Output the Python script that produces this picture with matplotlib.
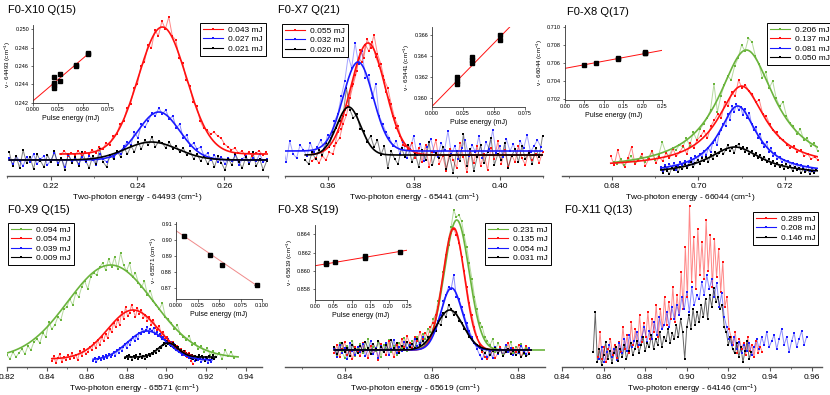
import numpy as np
import matplotlib
matplotlib.use('Agg')
import matplotlib.pyplot as plt
from matplotlib.lines import Line2D
from matplotlib.ticker import MultipleLocator, FormatStrFormatter

plt.rcParams['font.family'] = ['Liberation Sans', 'DejaVu Sans']
plt.rcParams['mathtext.fontset'] = 'custom'
plt.rcParams['mathtext.rm'] = 'Liberation Sans'
plt.rcParams['mathtext.default'] = 'regular'

RED = '#ff1010'
BLUE = '#1a1aff'
BLACK = '#000000'
GREEN = '#6ab43c'

# ---------------- data (signal in arbitrary units) ----------------
# Panel 1: F0-X10 Q(15)
p1_red_x0, p1_red_step = 0.2224, 0.0008
p1_red = [22, 25, 20, 23, 21, 25, 20, 24, 22, 26, 23, 29, 27, 33, 31, 40, 42, 52, 55, 68,
          72, 88, 92, 110, 114, 131, 128, 146, 140, 155, 147, 159, 140, 136, 118, 113, 96, 90, 74, 70,
          55, 48, 46, 42, 44, 40, 38, 32, 29, 26, 28, 23, 25, 21, 24, 20, 23, 25, 21, 24]
p1_blue_x0, p1_blue_step = 0.2105, 0.0008
p1_blue = [18, 12, 20, 15, 10, 19, 14, 22, 12, 17, 20, 11, 16, 23, 13, 18, 9, 21, 15, 17,
           12, 19, 14, 20, 16, 11, 22, 17, 14, 19, 19, 24, 22, 30, 34, 31, 44, 38, 52, 49,
           55, 63, 60, 68, 62, 66, 57, 60, 48, 52, 38, 41, 30, 33, 27, 29, 20, 23, 16, 21,
           14, 19, 12, 18, 15, 21, 11, 17, 20, 13, 18, 15, 22, 14, 17]
p1_black_x0, p1_black_step = 0.2105, 0.0008
p1_black = [24, 10, 20, 8, 26, 13, 19, 7, 22, 15, 9, 21, 14, 25, 11, 18, 6, 22, 13, 19,
            10, 24, 15, 8, 20, 12, 27, 14, 9, 21, 17, 25, 19, 28, 22, 30, 24, 34, 27, 36,
            31, 39, 29, 35, 33, 28, 34, 27, 30, 24, 28, 21, 25, 17, 22, 15, 20, 12, 18, 9,
            20, 13, 6, 17, 11, 22, 14, 8, 19, 12, 24, 10, 17, 6, 15]
p1_red_fit = (22, 127, 0.2457, 0.0055)
p1_blue_fit = (16, 48, 0.2449, 0.0048)
p1_black_fit = (16, 18, 0.2432, 0.0060)
p1_labels = ['0.043 mJ', '0.027 mJ', '0.021 mJ']

# Panel 2: F0-X7 Q(21)
p2_red_x0, p2_red_step = 0.3563, 0.0008
p2_red = [15, 18, 13, 20, 16, 24, 22, 33, 38, 52, 61, 78, 92, 105, 126, 118, 137, 128, 141, 122,
          112, 96, 88, 72, 58, 50, 36, 30, 27, 33, 18, 28, 14, 31, 9, 24, 36, 12, 20, 5,
          27, 16, 8, 33, 19, 4, 25, 13, 30, 10, 22, 6, 28, 17, 35, 12, 26, 9, 21, 14,
          30, 18, 11, 25, 16, 22, 13, 24]
p2_red2_x0, p2_red2_step = 0.3615, 0.0008
p2_red2 = [30, 44, 47, 66, 70, 90, 101, 118, 114, 131, 125, 134, 119, 110, 100, 84, 76, 60, 48, 40, 31]
p2_blue_x0, p2_blue_step = 0.3495, 0.0008
p2_blue = [30, 14, 35, 22, 18, 31, 26, 20, 33, 24, 29, 36, 27, 41, 38, 55, 62, 80, 95, 120,
           108, 133, 112, 125, 98, 101, 78, 92, 60, 52, 44, 38, 30, 35, 22, 34, 18, 27, 40, 21,
           32, 15, 29, 37, 24, 19, 33, 26, 45, 22, 30, 17, 28, 36, 20, 31, 24, 40, 18, 34,
           27, 46, 23, 30, 19, 37, 25, 32, 21, 35, 28, 41, 24, 30, 36, 29]
p2_black_x0, p2_black_step = 0.3547, 0.0008
p2_black = [16, 12, 24, 17, 26, 21, 33, 29, 44, 48, 55, 60, 88, 66, 58, 62, 47, 45, 34, 40,
            29, 36, 21, 30, 8, 25, 17, 12, 28, 19, 31, 14, 22, 9, 26, 16, 34, 11, 23, 18,
            29, 7, 20, 3, 25, 15, 42, 10, 27, 5, 19, 31, 13, 24, 38, 11, 22, 16, 33, 8,
            20, 27, 14, 30, 17, 23, 12, 28, 19, 40]
p2_red_fit = (21, 112, 0.3693, 0.0040)
p2_blue_fit = (25, 89, 0.3670, 0.0035)
p2_black_fit = (21, 48, 0.3648, 0.0028)
p2_labels = ['0.055 mJ', '0.032 mJ', '0.020 mJ']

# Panel 3: F0-X8 Q(17)
p3_green_x0, p3_green_step = 0.6804, 0.0008
p3_green = [14, 12, 17, 11, 15, 20, 13, 16, 19, 14, 18, 25, 16, 21, 34, 24, 20, 28, 26, 31,
            29, 38, 30, 44, 36, 47, 52, 58, 66, 92, 64, 80, 91, 100, 96, 110, 118, 131, 125, 138,
            134, 120, 112, 98, 104, 88, 95, 78, 70, 74, 60, 53, 50, 42, 47, 36, 38, 30, 33, 25]
p3_red_x0, p3_red_step = 0.6797, 0.0008
p3_red = [20, 11, 26, 14, 9, 18, 29, 12, 16, 22, 10, 17, 25, 13, 19, 15, 23, 18, 27, 20,
          24, 30, 22, 33, 28, 36, 40, 45, 38, 50, 56, 62, 58, 74, 70, 84, 80, 96, 88, 91,
          85, 82, 74, 76, 62, 60, 52, 46, 44, 38, 36, 31, 28, 30, 24, 26, 20, 22, 17, 19, 16]
p3_blue_x0, p3_blue_step = 0.6913, 0.0005
p3_blue = [9, 5, 11, 7, 12, 8, 13, 6, 10, 14, 11, 15, 9, 14, 18, 12, 20, 16, 22, 19,
           25, 21, 28, 24, 33, 36, 31, 42, 46, 52, 50, 62, 56, 70, 64, 72, 66, 69, 61, 67,
           58, 63, 52, 46, 49, 38, 42, 33, 29, 34, 24, 28, 20, 23, 17, 19, 14, 16, 12, 15,
           10, 13, 8, 12, 7, 11, 9, 6, 10, 5, 8, 4, 7]
p3_black_x0, p3_black_step = 0.6913, 0.0005
p3_black = [7, 3, 9, 5, 2, 8, 6, 10, 4, 9, 7, 12, 8, 11, 14, 9, 13, 16, 12, 18,
            15, 19, 14, 21, 17, 24, 20, 23, 27, 22, 26, 31, 25, 28, 23, 30, 32, 27, 29, 24,
            28, 22, 25, 20, 23, 18, 21, 16, 19, 14, 17, 12, 15, 10, 13, 9, 11, 7, 12, 8,
            10, 5, 9, 6, 8, 3, 7, 4, 6, 2, 5, 3, 6]
p3_green_fit = (6, 120, 0.7111, 0.0080)
p3_red_fit = (9, 80.9, 0.7100, 0.0067)
p3_blue_fit = (2.3, 67.7, 0.7091, 0.0054)
p3_black_fit = (1.6, 27.4, 0.7084, 0.0075)
p3_labels = ['0.206 mJ', '0.137 mJ', '0.081 mJ', '0.050 mJ']

# Panel 4: F0-X9 Q(15)
p4_green_x0, p4_green_step = 0.8200, 0.0015
p4_green = [12, 8, 15, 10, 14, 18, 13, 21, 17, 25, 28, 24, 34, 30, 45, 38, 42, 50, 47, 58,
            60, 68, 62, 74, 70, 80, 86, 78, 90, 94, 92, 100, 104, 97, 108, 100, 110, 98, 114, 102,
            96, 104, 90, 94, 84, 80, 86, 72, 76, 66, 62, 58, 64, 50, 48, 44, 38, 42, 33, 30,
            27, 31, 22, 24, 18, 21, 15, 19, 12, 16, 10, 14, 8, 17, 11, 15, 9]
p4_red_x0, p4_red_step = 0.8425, 0.0010
p4_red = [6, 11, 4, 9, 13, 5, 10, 7, 12, 8, 14, 9, 12, 7, 16, 11, 18, 13, 15, 20,
          17, 24, 19, 27, 22, 30, 26, 33, 29, 38, 35, 44, 40, 47, 42, 55, 48, 60, 51, 54,
          62, 56, 50, 59, 53, 57, 49, 52, 46, 50, 42, 47, 39, 37, 41, 31, 35, 28, 30, 26,
          22, 25, 19, 21, 15, 18, 12, 16, 10, 14, 6, 3]
p4_blue_x0, p4_blue_step = 0.8632, 0.0008
p4_blue = [6, 9, 5, 8, 10, 7, 11, 8, 12, 9, 13, 10, 12, 15, 11, 17, 14, 19, 16, 20,
           23, 19, 25, 22, 27, 30, 26, 31, 28, 34, 33, 38, 35, 37, 40, 34, 38, 36, 39, 33,
           35, 31, 33, 28, 30, 27, 24, 28, 22, 25, 20, 23, 17, 19, 15, 16, 12, 14, 11, 13,
           9, 12, 8, 10, 6, 9, 7, 10, 5, 8, 6, 9, 4, 7, 5]
p4_black_x0, p4_black_step = 0.8793, 0.0007
p4_black = [9, 11, 8, 12, 10, 7, 11, 9, 12, 8, 10, 13, 9, 11, 8, 12, 10, 13, 11, 14,
            13, 16, 14, 18, 16, 20, 19, 22, 24, 21, 26, 23, 25, 21, 24, 19, 22, 18, 20, 16,
            17, 14, 16, 12, 14, 11, 13, 9, 12, 8, 11, 7, 10, 12, 8, 11, 9, 6, 10, 8,
            11, 7, 9, 12, 8, 10]
p4_green_fit = (9, 93, 0.8720, 0.0215)
p4_red_fit = (8, 49, 0.8833, 0.0128)
p4_blue_fit = (7, 29, 0.8904, 0.0100)
p4_black_fit = (10, 14, 0.9009, 0.0050)
p4_labels = ['0.094 mJ', '0.054 mJ', '0.039 mJ', '0.009 mJ']

# Panel 5: F0-X8 S(19)
p5_x0, p5_step = 0.8375, 0.0006
p5_green = [20, 12, 24, 15, 9, 21, 17, 26, 11, 19, 23, 14, 18, 28, 13, 20, 16, 25, 10, 22,
            18, 27, 15, 21, 12, 24, 19, 29, 16, 22, 26, 18, 30, 24, 33, 28, 38, 35, 48, 52,
            66, 78, 95, 112, 128, 140, 157, 150, 152, 146, 132, 120, 104, 88, 70, 58, 44, 40, 30, 26,
            22, 28, 15, 24, 19, 12, 21, 17, 25, 14, 20, 16, 23, 13, 19, 18]
p5_red = [14, 22, 10, 18, 25, 12, 16, 8, 20, 15, 11, 24, 17, 9, 21, 13, 19, 7, 23, 16,
          12, 26, 18, 10, 22, 15, 28, 20, 31, 24, 19, 30, 26, 35, 28, 34, 30, 40, 44, 52,
          60, 76, 90, 108, 122, 134, 138, 132, 124, 110, 96, 80, 64, 52, 40, 30, 22, 15, 10, 8,
          12, 18, 9, 14, 20, 11, 16, 24, 13, 19, 15, 22, 10, 17, 21, 14]
p5_blue = [18, 10, 22, 14, 19, 8, 24, 16, 12, 20, 15, 23, 11, 17, 26, 13, 19, 9, 21, 16,
           24, 12, 18, 27, 14, 20, 16, 25, 19, 22, 17, 28, 21, 24, 30, 22, 27, 29, 34, 38,
           46, 52, 66, 72, 80, 78, 92, 70, 68, 60, 52, 44, 36, 30, 24, 18, 12, 8, 14, 10,
           16, 9, 20, 13, 18, 11, 22, 15, 19, 12, 17, 14, 21, 16, 13, 19]
p5_black = [20, 13, 17, 24, 15, 19, 11, 22, 18, 14, 21, 16, 25, 19, 13, 23, 18, 26, 20, 15,
            22, 17, 27, 19, 24, 14, 21, 18, 25, 20, 23, 19, 28, 22, 26, 21, 30, 28, 34, 36,
            44, 42, 54, 50, 62, 58, 52, 55, 46, 44, 38, 36, 30, 28, 24, 22, 19, 17, 14, 18,
            12, 16, 19, 14, 17, 11, 15, 18, 13, 16, 12, 15, 10, 14, 11, 13]
p5_green_fit = (17, 130, 0.8658, 0.00285)
p5_red_fit = (17, 122, 0.8651, 0.0025)
p5_blue_fit = (17, 62, 0.8646, 0.0025)
p5_black_fit = (17, 40, 0.8642, 0.0031)
p5_labels = ['0.231 mJ', '0.135 mJ', '0.054 mJ', '0.031 mJ']

# Panel 6: F0-X11 Q(13)
p6_red_x0, p6_red_step = 0.8573, 0.0010
p6_red = [10, 35, 8, 20, 5, 18, 28, 12, 22, 9, 25, 15, 40, 18, 32, 14, 45, 22, 38, 20,
          52, 25, 44, 30, 55, 28, 48, 35, 62, 30, 58, 38, 70, 42, 65, 48, 80, 45, 72, 52,
          95, 58, 120, 70, 161, 85, 130, 78, 138, 92, 125, 88, 147, 96, 132, 80, 128, 90, 118, 75,
          105, 60, 70, 38, 30, 22, 35, 14, 28, 18, 24, 12, 30, 16, 22, 10, 26, 14, 20, 15]
p6_blue_x0, p6_blue_step = 0.8580, 0.0012
p6_blue = [8, 20, 5, 15, 22, 10, 18, 7, 24, 14, 28, 16, 32, 20, 26, 35, 22, 30, 40, 25,
           36, 28, 45, 32, 50, 38, 42, 55, 40, 60, 48, 62, 52, 70, 58, 75, 55, 80, 62, 72,
           68, 85, 72, 92, 78, 88, 70, 84, 60, 74, 50, 40, 28, 22, 30, 18, 25, 14, 22, 16,
           24, 12, 20, 28, 18, 30, 22, 35, 20, 26, 32, 18, 28, 38, 22, 30, 15, 26, 34, 20,
           28, 36, 22, 30]
p6_black_x0, p6_black_step = 0.8550, 0.0010
p6_black = [15, 55, 5, 18, 2, 12, 25, 8, 16, 4, 14, 20, 6, 18, 10, 22, 8, 16, 24, 12,
            18, 26, 14, 22, 30, 16, 24, 20, 32, 18, 28, 22, 35, 20, 30, 26, 38, 24, 34, 28,
            42, 30, 48, 35, 8, 40, 52, 38, 58, 42, 55, 45, 62, 50, 68, 48, 72, 60, 79, 65,
            70, 58, 62, 40, 35, 22, 30, 18, 14, 24, 10, 20, 5, 16, 26, 8, 15]
p6_labels = ['0.289 mJ', '0.208 mJ', '0.146 mJ']

# Insets: line position vs pulse energy
ins1_e = [0.021, 0.021, 0.021, 0.021, 0.027, 0.027, 0.043, 0.043, 0.055, 0.055]
ins1_v = [0.2448, 0.2442, 0.2439, 0.2436, 0.2451, 0.2444, 0.2460, 0.2461, 0.2473, 0.2474]
ins1_fit = (0.2422, 0.0927)
ins2_e = [0.020, 0.020, 0.020, 0.032, 0.032, 0.032, 0.055, 0.055]
ins2_v = [0.3620, 0.3616, 0.3613, 0.3639, 0.3636, 0.3633, 0.3660, 0.3655]
ins2_fit = (0.3592, 0.1206)
ins3_e = [0.050, 0.081, 0.137, 0.137, 0.206, 0.206, 0.206]
ins3_v = [0.7058, 0.7060, 0.7065, 0.7066, 0.7071, 0.7072, 0.7073]
ins3_fit = (0.70544, 0.0080)
ins4_e = [0.009, 0.039, 0.054, 0.094]
ins4_v = [0.9025, 0.8910, 0.8848, 0.8718]
ins4_fit = (0.9060, -0.365)
ins5_e = [0.031, 0.031, 0.054, 0.135, 0.135, 0.231]
ins5_v = [0.8608, 0.8607, 0.8610, 0.8614, 0.8616, 0.8621]
ins5_fit = (0.86055, 0.0068)

# ---------------- drawing ----------------
W, H = 830, 395
fig = plt.figure(figsize=(W / 100, H / 100), dpi=100)


def px_axes(x0, x1, yt, yb):
    return fig.add_axes([x0 / W, 1 - yb / H, (x1 - x0) / W, (yb - yt) / H])


def gauss(x, base, amp, c, s):
    return base + amp * np.exp(-(x - c) ** 2 / (2 * s * s))


def lorentz(x, base, amp, c, g):
    return base + amp / (1 + ((x - c) / g) ** 2)


def series(ax, x0, step, y, color, alpha=0.5, ms=1.8):
    x = x0 + step * np.arange(len(y))
    ax.plot(x, y, '-', color=color, lw=0.7, alpha=alpha, zorder=2)
    ax.plot(x, y, 's', color=color, ms=ms, mew=0, zorder=3)
    return x


def fit(ax, func, params, xa, xb, color):
    xx = np.linspace(xa, xb, 400)
    ax.plot(xx, func(xx, *params), '-', color=color, lw=1.2, zorder=4)


def setup_main(ax, xlim, ylim, xlabel):
    ax.set_xlim(*xlim)
    ax.set_ylim(*ylim)
    for s in ['left', 'right', 'top']:
        ax.spines[s].set_visible(False)
    ax.spines['bottom'].set_color('#555555')
    ax.spines['bottom'].set_linewidth(1.0)
    ax.set_yticks([])
    ax.xaxis.set_major_locator(MultipleLocator(0.02))
    ax.xaxis.set_minor_locator(MultipleLocator(0.01))
    ax.xaxis.set_major_formatter(FormatStrFormatter('%.2f'))
    ax.tick_params(axis='x', which='major', length=3, width=0.8, color='#555555',
                   labelsize=6, pad=2)
    ax.tick_params(axis='x', which='minor', length=1.6, width=0.6, color='#555555')
    ax.set_xlabel(xlabel, fontsize=6, labelpad=1)
    ax.patch.set_alpha(0)


def legend(ax, colors, labels, x0, yt):
    handles = [Line2D([0], [0], color=c, lw=0.8, marker='s', ms=2, mew=0) for c in colors]
    lg = ax.legend(handles, labels, loc='upper left',
                   bbox_to_anchor=(x0 / W, 1 - yt / H), bbox_transform=fig.transFigure,
                   fontsize=6, frameon=True, fancybox=False, framealpha=1,
                   edgecolor='black', borderpad=0.35, labelspacing=0.2,
                   handlelength=2.4, handletextpad=0.6, borderaxespad=0)
    lg.get_frame().set_linewidth(0.7)
    lg.set_zorder(10)


def inset(x0, x1, yt, yb, xlim, ylim, xt, yt_, xf, yf, e, v, fitp, xfit_end, ylabel,
          fcolor=RED, xerr=None):
    ax = px_axes(x0, x1, yt, yb)
    ax.set_xlim(*xlim)
    ax.set_ylim(*ylim)
    for s in ['right', 'top']:
        ax.spines[s].set_visible(False)
    for s in ['left', 'bottom']:
        ax.spines[s].set_linewidth(0.6)
        ax.spines[s].set_color('#333333')
    ax.set_xticks(xt)
    ax.set_yticks(yt_)
    ax.xaxis.set_major_formatter(FormatStrFormatter(xf))
    ax.yaxis.set_major_formatter(FormatStrFormatter(yf))
    ax.tick_params(labelsize=4, length=1.8, width=0.5, pad=1, color='#333333')
    ax.set_xlabel('Pulse energy (mJ)', fontsize=5, labelpad=2)
    ax.set_ylabel(ylabel, fontsize=4.5, labelpad=1.5)
    ax.patch.set_alpha(0)
    xx = np.linspace(0, xfit_end, 50)
    ax.plot(xx, fitp[0] + fitp[1] * xx, '-', color=fcolor, lw=0.7, zorder=2)
    yerr = (ylim[1] - ylim[0]) * 0.012
    ax.errorbar(e, v, yerr=yerr, xerr=xerr, fmt='s', color='black', ms=2.8,
                elinewidth=0.5, capsize=0, zorder=3)
    return ax


def title(x, y, s):
    fig.text(x / W, 1 - y / H, s, fontsize=8, va='center', ha='left')


# Panel 1
ax1 = px_axes(7, 268, 12, 176)
series(ax1, p1_red_x0, p1_red_step, p1_red, RED)
series(ax1, p1_blue_x0, p1_blue_step, p1_blue, BLUE)
series(ax1, p1_black_x0, p1_black_step, p1_black, BLACK)
fit(ax1, gauss, p1_red_fit, 0.2222, 0.2700, RED)
fit(ax1, gauss, p1_blue_fit, 0.2105, 0.2700, BLUE)
fit(ax1, gauss, p1_black_fit, 0.2105, 0.2700, BLACK)
setup_main(ax1, (0.21, 0.27), (0, 164), 'Two-photon energy - 64493 (cm$^{-1}$)')
legend(ax1, [RED, BLUE, BLACK], p1_labels, 200, 23)
title(8, 10, 'F0-X10 Q(15)')
inset(33, 108, 25, 103, (0, 0.075), (0.24197, 0.25047), [0, 0.025, 0.05, 0.075],
      [0.242, 0.244, 0.246, 0.248, 0.250], '%.3f', '%.3f', ins1_e, ins1_v, ins1_fit, 0.056,
      'ν - 64493 (cm$^{-1}$)')

# Panel 2
ax2 = px_axes(285, 543, 12, 176)
series(ax2, p2_blue_x0, p2_blue_step, p2_blue, BLUE, alpha=0.4)
series(ax2, p2_red_x0, p2_red_step, p2_red, RED)
series(ax2, p2_red2_x0, p2_red2_step, p2_red2, RED)
series(ax2, p2_black_x0, p2_black_step, p2_black, BLACK)
fit(ax2, gauss, p2_red_fit, 0.3563, 0.4100, RED)
fit(ax2, gauss, p2_blue_fit, 0.3495, 0.4100, BLUE)
fit(ax2, gauss, p2_black_fit, 0.3547, 0.4100, BLACK)
setup_main(ax2, (0.35, 0.41), (0, 164), 'Two-photon energy - 65441 (cm$^{-1}$)')
legend(ax2, [RED, BLUE, BLACK], p2_labels, 282, 24)
title(278, 10, 'F0-X7 Q(21)')
inset(432, 525, 27, 107, (0, 0.075), (0.35914, 0.36676), [0, 0.025, 0.05, 0.075],
      [0.360, 0.362, 0.364, 0.366], '%.3f', '%.3f', ins2_e, ins2_v, ins2_fit, 0.063,
      'ν - 65441 (cm$^{-1}$)')

# Panel 3
ax3 = px_axes(562, 818, 12, 176)
series(ax3, p3_green_x0, p3_green_step, p3_green, GREEN)
series(ax3, p3_red_x0, p3_red_step, p3_red, RED)
series(ax3, p3_blue_x0, p3_blue_step, p3_blue, BLUE)
series(ax3, p3_black_x0, p3_black_step, p3_black, BLACK)
fit(ax3, lorentz, p3_green_fit, 0.6804, 0.7277, GREEN)
fit(ax3, lorentz, p3_red_fit, 0.6797, 0.7277, RED)
fit(ax3, lorentz, p3_blue_fit, 0.6913, 0.7277, BLUE)
fit(ax3, lorentz, p3_black_fit, 0.6913, 0.7277, BLACK)
setup_main(ax3, (0.6684, 0.7277), (0, 164), 'Two-photon energy - 66044 (cm$^{-1}$)')
legend(ax3, [GREEN, RED, BLUE, BLACK], p3_labels, 767, 23)
title(567, 12, 'F0-X8 Q(17)')
inset(565, 662, 25, 100, (0, 0.25), (0.70192, 0.71026), [0, 0.05, 0.10, 0.15, 0.20, 0.25],
      [0.702, 0.704, 0.706, 0.708, 0.710], '%.2f', '%.3f', ins3_e, ins3_v, ins3_fit, 0.25,
      'ν - 66044 (cm$^{-1}$)')

# Panel 4
ax4 = px_axes(7, 262, 200, 367)
series(ax4, p4_green_x0, p4_green_step, p4_green, GREEN)
series(ax4, p4_red_x0, p4_red_step, p4_red, RED)
series(ax4, p4_blue_x0, p4_blue_step, p4_blue, BLUE)
series(ax4, p4_black_x0, p4_black_step, p4_black, BLACK)
fit(ax4, gauss, p4_green_fit, 0.8200, 0.9360, GREEN)
fit(ax4, gauss, p4_red_fit, 0.8425, 0.9135, RED)
fit(ax4, gauss, p4_blue_fit, 0.8632, 0.9228, BLUE)
fit(ax4, gauss, p4_black_fit, 0.8793, 0.9250, BLACK)
setup_main(ax4, (0.82, 0.948), (0, 167), 'Two-photon energy - 65571 (cm$^{-1}$)')
legend(ax4, [GREEN, RED, BLUE, BLACK], p4_labels, 8, 223)
title(8, 210, 'F0-X9 Q(15)')
inset(176, 262, 222, 299, (0, 0.1), (0.86331, 0.91144), [0, 0.025, 0.05, 0.075, 0.1],
      [0.87, 0.88, 0.89, 0.90, 0.91], '%.3f', '%.2f', ins4_e, ins4_v, ins4_fit, 0.097,
      'ν - 65571 (cm$^{-1}$)', fcolor='#f08a8a', xerr=[0.001, 0.001, 0.001, 0.003])

# Panel 5
ax5 = px_axes(285, 545, 200, 367)
series(ax5, p5_x0, p5_step, p5_green, GREEN)
series(ax5, p5_x0, p5_step, p5_red, RED)
series(ax5, p5_x0, p5_step, p5_blue, BLUE)
series(ax5, p5_x0, p5_step, p5_black, BLACK)
fit(ax5, gauss, p5_green_fit, 0.8375, 0.8862, GREEN)
fit(ax5, gauss, p5_red_fit, 0.8375, 0.8830, RED)
fit(ax5, gauss, p5_blue_fit, 0.8375, 0.8830, BLUE)
fit(ax5, gauss, p5_black_fit, 0.8375, 0.8830, BLACK)
setup_main(ax5, (0.8261, 0.8862), (0, 167), 'Two-photon energy - 65619 (cm$^{-1}$)')
legend(ax5, [GREEN, RED, BLUE, BLACK], p5_labels, 485, 223)
title(278, 210, 'F0-X8 S(19)')
inset(315, 407, 225, 300, (0, 0.25), (0.85679, 0.86502), [0, 0.05, 0.10, 0.15, 0.20, 0.25],
      [0.858, 0.860, 0.862, 0.864], '%.2f', '%.3f', ins5_e, ins5_v, ins5_fit, 0.25,
      'ν - 65619 (cm$^{-1}$)')

# Panel 6
ax6 = px_axes(562, 822, 200, 367)
series(ax6, p6_red_x0, p6_red_step, p6_red, RED)
series(ax6, p6_blue_x0, p6_blue_step, p6_blue, BLUE)
series(ax6, p6_black_x0, p6_black_step, p6_black, BLACK, alpha=0.6)
setup_main(ax6, (0.84, 0.965), (0, 167), 'Two-photon energy - 64146 (cm$^{-1}$)')
legend(ax6, [RED, BLUE, BLACK], p6_labels, 753, 212)
title(565, 210, 'F0-X11 Q(13)')

fig.savefig('out.png', dpi=100)
